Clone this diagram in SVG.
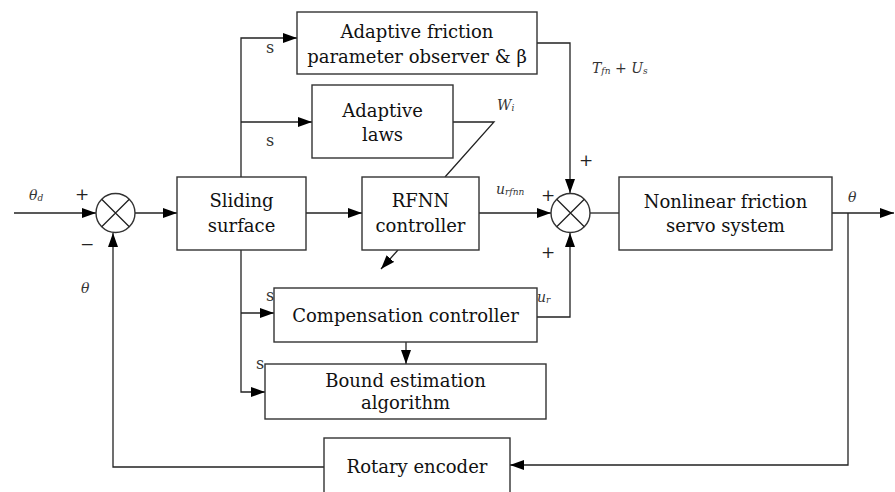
<svg xmlns="http://www.w3.org/2000/svg" width="895" height="492" viewBox="0 0 895 492">
  <style>
    .box { fill: #fff; stroke: #333; stroke-width: 1.4; }
    .wire { fill: none; stroke: #222; stroke-width: 1.3; }
    .lbl { font-family: 'DejaVu Serif', serif; font-size: 18px; fill: #111; text-anchor: middle; }
    .sm { font-family: 'DejaVu Serif', serif; font-size: 14px; fill: #333; }
    .s { font-size: 16px; }
    .it { font-style: italic; }
    .sub { font-size: 9px; }
    .sign { font-family: 'DejaVu Serif', serif; font-size: 17px; fill: #222; text-anchor: middle; }
  </style>
  <defs>
    <marker id="arrow" viewBox="0 0 14 10" refX="14" refY="5" markerWidth="14" markerHeight="10" markerUnits="userSpaceOnUse" orient="auto">
      <path d="M0,0 L14,5 L0,10 Z" fill="#000"/>
    </marker>
  </defs>

  <rect width="895" height="492" fill="#fff"/>

  <!-- connectors -->
  <g id="connectors">
    <path class="wire" d="M14,213 H96" marker-end="url(#arrow)"/>
    <path class="wire" d="M135,213 H177" marker-end="url(#arrow)"/>
    <path class="wire" d="M241,177 V38 H297" marker-end="url(#arrow)"/>
    <path class="wire" d="M241,122 H312" marker-end="url(#arrow)"/>
    <path class="wire" d="M306,213 H362" marker-end="url(#arrow)"/>
    <path class="wire" d="M453,122 H494 L445,177"/>
    <path class="wire" d="M398,250 L381,269" marker-end="url(#arrow)"/>
    <path class="wire" d="M479,213 H551" marker-end="url(#arrow)"/>
    <path class="wire" d="M537,43 H570 V193" marker-end="url(#arrow)"/>
    <path class="wire" d="M537,317 H570 V233" marker-end="url(#arrow)"/>
    <path class="wire" d="M590,213 H619"/>
    <path class="wire" d="M832,213 H894" marker-end="url(#arrow)"/>
    <path class="wire" d="M848,213 V465 H510" marker-end="url(#arrow)"/>
    <path class="wire" d="M324,467 H113 V233" marker-end="url(#arrow)"/>
    <path class="wire" d="M241,250 V392 H265" marker-end="url(#arrow)"/>
    <path class="wire" d="M241,313 H274" marker-end="url(#arrow)"/>
    <path class="wire" d="M406,342 V364" marker-end="url(#arrow)"/>
  </g>

  <!-- summing junctions -->
  <g id="sum1">
    <circle class="box" cx="115.5" cy="213" r="19.5"/>
    <path class="wire" d="M101.7,199.2 L129.3,226.8 M129.3,199.2 L101.7,226.8"/>
  </g>
  <g id="sum2">
    <circle class="box" cx="570.5" cy="213" r="19.5"/>
    <path class="wire" d="M556.7,199.2 L584.3,226.8 M584.3,199.2 L556.7,226.8"/>
  </g>

  <!-- blocks -->
  <g id="sliding-surface">
    <rect class="box" x="177" y="177" width="129" height="73"/>
    <text class="lbl" x="241.5" y="207">Sliding</text>
    <text class="lbl" x="241.5" y="232">surface</text>
  </g>
  <g id="friction-observer">
    <rect class="box" x="297" y="12" width="240" height="62"/>
    <text class="lbl" x="417" y="38">Adaptive friction</text>
    <text class="lbl" x="417" y="63">parameter observer &amp; β</text>
  </g>
  <g id="adaptive-laws">
    <rect class="box" x="312" y="85" width="141" height="73"/>
    <text class="lbl" x="382.5" y="117">Adaptive</text>
    <text class="lbl" x="382.5" y="141">laws</text>
  </g>
  <g id="rfnn-controller">
    <rect class="box" x="362" y="177" width="117" height="73"/>
    <text class="lbl" x="420.5" y="207">RFNN</text>
    <text class="lbl" x="420.5" y="232">controller</text>
  </g>
  <g id="servo-system">
    <rect class="box" x="619" y="177" width="213" height="73"/>
    <text class="lbl" x="725.5" y="208">Nonlinear friction</text>
    <text class="lbl" x="725.5" y="232">servo system</text>
  </g>
  <g id="compensation-controller">
    <rect class="box" x="274" y="288" width="263" height="54"/>
    <text class="lbl" x="405.5" y="322">Compensation controller</text>
  </g>
  <g id="bound-estimation">
    <rect class="box" x="265" y="364" width="281" height="55"/>
    <text class="lbl" x="405.5" y="387">Bound estimation</text>
    <text class="lbl" x="405.5" y="409">algorithm</text>
  </g>
  <g id="rotary-encoder">
    <rect class="box" x="324" y="438" width="186" height="60"/>
    <text class="lbl" x="417" y="473">Rotary encoder</text>
  </g>

  <!-- signal labels -->
  <g id="labels">
    <text class="sm it" x="29" y="200">θ<tspan class="sub" dy="1">d</tspan></text>
    <text class="sign" x="82" y="200">+</text>
    <text class="sign" x="87" y="250">−</text>
    <text class="sm it" x="81" y="293">θ</text>
    <text class="sm s" x="266" y="53">s</text>
    <text class="sm s" x="266" y="146">s</text>
    <text class="sm s" x="266" y="301">s</text>
    <text class="sm s" x="256" y="369">s</text>
    <text class="sm it" x="497" y="110">W<tspan class="sub" dy="1">i</tspan></text>
    <text class="sm it" x="592" y="73">T<tspan class="sub" dy="1">fn</tspan><tspan dy="-1" font-style="normal"> + </tspan>U<tspan class="sub" dy="1">s</tspan></text>
    <text class="sm it" x="496" y="194">u<tspan class="sub" dy="1">rfnn</tspan></text>
    <text class="sm it" x="537" y="302">u<tspan class="sub" dy="1">r</tspan></text>
    <text class="sign" x="548" y="201">+</text>
    <text class="sign" x="586" y="166">+</text>
    <text class="sign" x="548" y="258">+</text>
    <text class="sm it" x="848" y="202">θ</text>
  </g>
</svg>
